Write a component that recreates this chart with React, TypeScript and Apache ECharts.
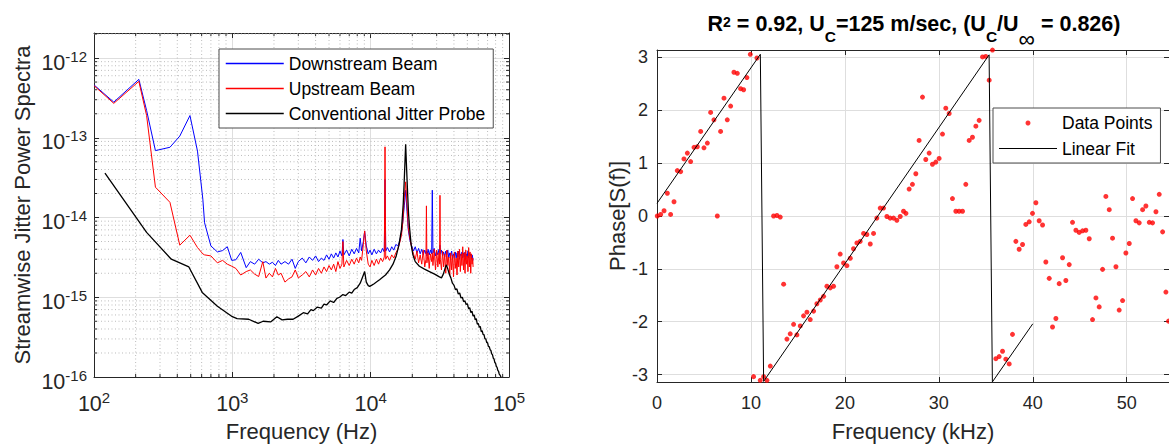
import React, { useEffect, useRef } from 'react';
import * as echarts from 'echarts';

const FONT = '"Liberation Sans", Arial, Helvetica, sans-serif';
const AX = '#262626';
const PSD_UNIT = 1e-15; // values below are in units of 1e-15

// ---- Left panel: streamwise jitter power spectra [frequency Hz, PSD x1e-15]
const downstreamBeam: [number, number][] = [
  [100, 460], [139, 280], [211, 540], [240, 220], [278, 69], [354, 76], [417, 105], [494, 190], [560, 68], [612, 17],
  [630, 8.6], [700, 4.4], [780, 3.7], [850, 3.85], [920, 4.3], [990, 2.9], [1060, 2.95], [1150, 3.65], [1260, 2.35], [1350, 2.8],
  [1450, 2.6], [1550, 3.0], [1660, 2.7], [1750, 2.8], [1850, 2.6], [1950, 2.75], [2050, 2.5], [2150, 2.9], [2250, 2.6], [2400, 2.8],
  [2550, 2.6], [2700, 3.0], [2850, 2.3], [3000, 2.8], [3200, 3.1], [3400, 2.7], [3600, 3.2], [3800, 2.9], [4000, 3.3], [4200, 2.8],
  [4400, 3.1], [4600, 2.9], [4800, 3.4], [5000, 3.0], [5200, 3.5], [5400, 3.1], [5600, 3.6], [5800, 3.2], [6000, 3.8], [6200, 3.3],
  [6300, 5.3], [6400, 3.4], [6700, 3.9], [7000, 3.3], [7300, 4.0], [7600, 3.5], [7900, 4.1], [8200, 3.6], [8400, 5.5], [8600, 3.8],
  [8850, 5.0], [9050, 6.7], [9300, 4.4], [9600, 3.5], [9900, 3.9], [10200, 3.4], [10600, 4.0], [11000, 3.5], [11400, 3.9], [11800, 3.6],
  [12200, 4.1], [12550, 3.7], [12700, 30], [12850, 3.8], [13200, 4.2], [13700, 3.7], [14200, 4.3], [14700, 3.9], [15200, 4.6], [15700, 4.4],
  [16200, 5.0], [16700, 6.5], [17100, 9], [17500, 14], [17900, 22], [18300, 12], [18700, 7], [19200, 5.2], [19800, 4.4], [20400, 3.8],
  [21000, 4.3], [21600, 3.6], [22200, 4.1], [22800, 3.5], [23400, 4.0], [24000, 3.4], [24600, 3.9], [25100, 3.5], [25300, 3.8], [25500, 3.3],
  [26000, 4.0], [26500, 3.4], [27000, 3.9], [27600, 3.5], [27900, 22], [28200, 3.6], [28800, 4.1], [29400, 3.3], [30000, 3.8], [30600, 3.4],
  [31200, 4.0], [31500, 3.6], [31700, 4.5], [31900, 3.5], [32500, 3.9], [33100, 3.3], [33700, 3.7], [34300, 3.2], [34900, 3.8], [35500, 3.4],
  [36100, 3.9], [36700, 3.1], [37300, 3.6], [37900, 3.3], [38500, 3.8], [39100, 3.0], [39700, 3.5], [40300, 3.2], [40900, 3.7], [41500, 3.1],
  [42100, 3.6], [42700, 3.2], [43300, 3.8], [43900, 3.0], [44500, 3.5], [45100, 3.3], [45700, 3.7], [46300, 3.1], [46900, 3.6], [47500, 3.2],
  [48100, 3.7], [48700, 3.0], [49300, 3.5], [49900, 3.2], [50500, 3.8], [51100, 3.1], [51700, 3.6], [52300, 3.3], [52900, 3.5], [53500, 3.0],
  [54100, 3.4], [54700, 3.1], [55000, 2.9],
];

const upstreamBeam: [number, number][] = [
  [100, 450], [139, 270], [211, 510], [240, 190], [278, 24], [354, 15.5], [417, 4.5], [494, 6.0], [560, 4.2], [612, 3.5],
  [630, 3.4], [700, 3.3], [780, 2.7], [850, 2.9], [920, 2.6], [990, 2.45], [1060, 2.3], [1150, 1.9], [1260, 2.1], [1350, 2.2],
  [1450, 1.95], [1550, 1.82], [1660, 2.8], [1750, 1.74], [1850, 2.0], [1950, 1.8], [2050, 2.3], [2150, 1.9], [2250, 2.0], [2400, 1.55],
  [2550, 1.7], [2700, 1.8], [2850, 2.2], [3000, 1.75], [3200, 1.9], [3400, 2.1], [3600, 1.8], [3800, 2.2], [4000, 1.9], [4200, 2.3],
  [4400, 2.0], [4600, 2.4], [4800, 2.1], [5000, 2.5], [5200, 2.2], [5400, 2.6], [5600, 2.1], [5800, 2.8], [6000, 2.3], [6200, 2.6],
  [6300, 5.0], [6400, 2.4], [6700, 2.9], [7000, 2.5], [7300, 3.0], [7600, 2.6], [7900, 3.1], [8200, 2.7], [8400, 3.2], [8600, 2.9],
  [8850, 4.6], [9050, 6.8], [9300, 3.8], [9600, 2.6], [9900, 2.4], [10200, 2.9], [10600, 2.5], [11000, 3.0], [11400, 2.6], [11800, 3.1],
  [12200, 2.8], [12550, 3.2], [12700, 77], [12850, 3.0], [13200, 3.3], [13700, 2.9], [14200, 3.4], [14700, 3.1], [15200, 3.6], [15700, 4.0],
  [16200, 4.8], [16700, 6.0], [17100, 9], [17500, 18], [17900, 28], [18300, 15], [18700, 7.5], [19200, 5.5], [19800, 4.2], [20400, 3.5],
  [21000, 3.0], [21600, 3.8], [22200, 2.7], [22800, 3.4], [23400, 2.6], [24000, 3.9], [24600, 2.4], [25100, 3.0], [25300, 14], [25500, 2.7],
  [26000, 3.6], [26500, 2.3], [27000, 3.5], [27600, 2.8], [27900, 3.6], [28200, 2.5], [28800, 4.0], [29400, 2.2], [30000, 3.9], [30600, 2.4],
  [31200, 3.6], [31500, 2.6], [31700, 19], [31900, 3.0], [32500, 2.2], [33100, 3.8], [33700, 2.4], [34300, 3.5], [34900, 2.0], [35500, 3.9],
  [36100, 2.5], [36700, 3.2], [37300, 1.9], [37900, 3.6], [38500, 2.2], [39100, 3.4], [39700, 1.8], [40300, 3.7], [40900, 2.3], [41500, 3.1],
  [42100, 1.9], [42700, 3.8], [43300, 2.4], [43900, 4.0], [44500, 2.1], [45100, 3.5], [45700, 2.5], [46300, 4.3], [46900, 2.2], [47500, 3.6],
  [48100, 2.0], [48700, 3.9], [49300, 2.6], [49900, 3.3], [50500, 2.1], [51100, 4.2], [51700, 2.4], [52300, 3.7], [52900, 2.0], [53500, 3.5],
  [54100, 2.6], [54700, 3.1], [55000, 2.4],
];

const jitterProbe: [number, number][] = [
  [120, 36], [240, 6.5], [362, 3.0], [485, 2.4], [606, 1.15], [780, 0.77], [1000, 0.57], [1083, 0.54], [1313, 0.53], [1537, 0.47],
  [1670, 0.50], [1890, 0.49], [2100, 0.57], [2290, 0.52], [2500, 0.53], [2750, 0.53], [3000, 0.58], [3260, 0.64], [3500, 0.62], [3700, 0.70],
  [3850, 0.68], [4100, 0.75], [4400, 0.73], [4600, 0.82], [4800, 0.80], [5100, 0.90], [5400, 0.86], [5700, 0.97], [5960, 1.0], [6300, 1.08],
  [6600, 1.05], [7000, 1.16], [7300, 1.13], [7600, 1.25], [8000, 1.32], [8400, 1.5], [8800, 1.85], [9050, 2.1], [9300, 1.55], [9600, 1.4],
  [9840, 1.37], [10200, 1.42], [10600, 1.48], [11000, 1.55], [11600, 1.66], [12200, 1.78], [12800, 1.9], [13700, 2.2], [14500, 2.6], [15300, 3.3],
  [16000, 4.5], [16700, 7.1], [17200, 15], [17500, 30], [17900, 83], [18200, 40], [18500, 20], [18800, 11], [19100, 7.5], [19600, 4.6],
  [20200, 3.4], [21000, 2.8], [22500, 2.45], [24500, 2.25], [26600, 2.1], [29000, 1.95], [31400, 1.8], [32500, 1.75], [33500, 1.95], [34500, 2.3],
  [35200, 2.55], [36000, 2.3], [37000, 1.95], [38000, 1.75], [39000, 1.5], [40000, 1.42], [41000, 1.25], [42000, 1.27], [43000, 1.1], [44000, 1.13],
  [45000, 0.98], [46000, 1.0], [47000, 0.88], [48000, 0.9], [49000, 0.81], [50000, 0.83], [51000, 0.72], [52000, 0.74], [53000, 0.64], [54000, 0.67],
  [55000, 0.58], [56000, 0.6], [57000, 0.52], [58000, 0.54], [59000, 0.46], [60000, 0.47], [61000, 0.42], [62000, 0.43], [63000, 0.37], [64000, 0.38],
  [65000, 0.34], [66000, 0.34], [67000, 0.3], [68000, 0.3], [69000, 0.27], [70000, 0.27], [71000, 0.24], [72000, 0.24], [73000, 0.22], [74000, 0.215],
  [75000, 0.195], [76000, 0.19], [77000, 0.172], [78000, 0.168], [79000, 0.152], [80000, 0.148], [81000, 0.136], [82000, 0.132], [83000, 0.121], [84000, 0.118],
  [85000, 0.109], [86000, 0.106], [87600, 0.10],
];

// ---- Right panel: phase of cross-spectrum
const phaseFreqKHz = [
  0.03, 0.39, 0.75, 1.10, 1.45, 1.81, 2.16, 2.52, 2.87, 3.23, 3.58, 3.94, 4.29, 4.65, 5.00, 5.36, 5.71, 6.06, 6.42, 6.77,
  7.13, 7.48, 7.84, 8.19, 8.55, 8.90, 9.22, 9.57, 9.93, 10.28, 10.64, 10.99, 11.35, 11.70, 12.06, 12.41, 12.77, 13.12, 13.48, 13.83,
  14.18, 14.54, 14.89, 15.25, 15.60, 15.96, 16.31, 16.67, 17.02, 17.38, 17.73, 18.09, 18.44, 18.79, 19.15, 19.50, 19.86, 20.21, 20.57, 20.92,
  21.28, 21.63, 21.99, 22.34, 22.70, 23.05, 23.40, 23.76, 24.11, 24.47, 24.82, 25.18, 25.53, 25.89, 26.24, 26.50, 26.84, 27.19, 27.55, 27.90,
  28.26, 28.61, 28.97, 29.32, 29.68, 30.03, 30.39, 30.74, 31.10, 31.45, 31.81, 32.16, 32.52, 32.87, 33.23, 33.58, 33.94, 34.29, 34.65, 35.00,
  35.36, 35.71, 36.07, 36.42, 36.78, 37.13, 37.49, 37.84, 38.20, 38.55, 38.91, 39.26, 39.62, 39.97, 40.33, 40.68, 41.04, 41.39, 41.75, 42.10,
  42.46, 42.81, 43.17, 43.52, 43.88, 44.23, 44.59, 44.94, 45.30, 45.65, 46.01, 46.36, 46.72, 47.07, 47.43, 47.78, 48.14, 48.49, 48.85, 49.20,
  49.56, 49.91, 50.27, 50.62, 50.98, 51.33, 51.69, 52.04, 52.40, 52.75, 53.11, 53.46, 53.82, 54.17, 54.45,
];
const phaseRad = [
  0.00, 0.03, 0.10, 0.43, 0.03, 0.27, 0.86, 0.84, 1.08, 1.19, 1.03, 1.30, 1.31, 1.60, 1.29, 1.38, 1.96, 1.82, 0.00, 1.60,
  2.23, 1.82, 2.08, 2.72, 2.70, 2.41, 2.39, 2.62, 3.06, -3.04, 2.99, -3.11, -3.04, -3.11, -2.84, 0.00, 0.01, -0.02, -1.29, -2.33,
  -2.23, -2.05, -2.25, -2.08, -1.89, -1.82, -1.96, -1.80, -1.66, -1.59, -1.52, -1.33, -1.36, -1.33, -0.96, -0.72, -0.89, -0.94, -0.80, -0.62,
  -0.51, -0.48, -0.33, -0.35, -0.53, -0.33, -0.04, 0.15, 0.15, -0.01, -0.04, -0.04, -0.08, -0.01, 0.09, 0.05, 0.51, 0.60, 0.80, 1.43,
  2.25, 1.07, 1.19, 0.98, 1.02, 1.09, 1.55, 2.04, 1.94, 0.33, 0.09, 0.09, 0.09, 0.60, 1.43, 1.49, 1.70, 1.81, 3.01, 3.02,
  2.57, 3.14, -2.70, -2.66, -2.56, -2.71, -2.80, -2.24, -0.48, -0.63, -0.54, -0.16, -0.11, 0.05, 0.25, -0.09, -0.17, -0.87, -1.18, -2.10,
  -1.94, -1.28, -0.79, -1.22, -0.92, -0.12, -0.27, -0.31, -0.28, -0.27, -0.43, -1.96, -1.55, -1.72, -1.01, 0.37, 0.12, -0.42, -0.96, -1.78,
  -1.60, -0.70, -0.52, 0.33, -0.09, -0.13, 0.12, 0.19, -0.12, -0.13, 0.08, 0.41, -0.30, -1.44, -1.99,
];
const linearFit: [number, number][] = [
  [0, 0.24], [11.0, 3.06], [11.35, -3.13], [35.35, 3.05], [35.7, -3.14], [40.0, -2.04],
];

const LEFT_Y_MIN = 1e-16;
const LEFT_Y_MAX = 2.06e-12;
const LINE_ICON = 'path://M0,0H58V1.2H0Z';

const toPsd = (arr: [number, number][]) => arr.map(([f, v]) => [f, v * PSD_UNIT]);

const powLabel = (v: number) => {
  const l = Math.log10(v);
  const e = Math.round(l);
  if (Math.abs(l - e) > 1e-6) return '';
  return `{b|10}{s|${e}}`;
};

const powRich = {
  b: { fontSize: 21.5, lineHeight: 28, color: AX, fontFamily: FONT },
  s: { fontSize: 15, lineHeight: 18, verticalAlign: 'top', color: AX, fontFamily: FONT },
};

function App() {
  const ref = useRef<HTMLDivElement>(null);
  useEffect(() => {
    if (!ref.current) return;
    const chart = echarts.init(ref.current, undefined, { renderer: 'svg' });

    const minorX: number[] = [];
    [100, 1000, 10000].forEach((d) => { for (let k = 2; k <= 9; k++) minorX.push(k * d); });
    const minorY: number[] = [];
    [1e-16, 1e-15, 1e-14, 1e-13, 1e-12].forEach((d) => {
      for (let k = 2; k <= 9; k++) if (k * d < LEFT_Y_MAX) minorY.push(k * d);
    });
    const minorData = [
      ...minorX.map((v) => [v, 1e-15, 0]),
      ...minorY.map((v) => [1000, v, 1]),
    ];

    const axisLine = { show: true, onZero: false, lineStyle: { color: AX, width: 1 } };
    const tick = { show: true, inside: true, length: 5, lineStyle: { color: AX, width: 1 } };
    const grid = { show: true, lineStyle: { color: '#dedede', width: 1 } };
    const nameStyle = { fontSize: 22, color: AX, fontFamily: FONT };
    const legendText = { fontSize: 17.5, color: '#000', fontFamily: FONT, lineHeight: 22 };

    const option: any = {
      animation: false,
      backgroundColor: '#ffffff',
      textStyle: { fontFamily: FONT },
      grid: [
        { left: 94, top: 33, width: 415, height: 344, containLabel: false },
        { left: 657, top: 50, width: 513, height: 333, containLabel: false },
      ],
      xAxis: [
        {
          type: 'log', logBase: 10, min: 100, max: 100000, gridIndex: 0, position: 'bottom',
          axisLine, axisTick: tick, splitLine: grid,
          axisLabel: { formatter: powLabel, rich: powRich, margin: 13 },
          name: 'Frequency (Hz)', nameLocation: 'middle', nameGap: 43, nameTextStyle: nameStyle,
        },
        {
          type: 'log', logBase: 10, min: 100, max: 100000, gridIndex: 0, position: 'top',
          axisLine, axisTick: tick, splitLine: { show: false }, axisLabel: { show: false },
        },
        {
          type: 'value', min: 0, max: 54.5, interval: 10, gridIndex: 1, position: 'bottom',
          axisLine, axisTick: tick, splitLine: grid,
          axisLabel: { fontSize: 18, color: AX, margin: 12, showMaxLabel: false, fontFamily: FONT },
          name: 'Frequency (kHz)', nameLocation: 'middle', nameGap: 38, nameTextStyle: nameStyle,
        },
        {
          type: 'value', min: 0, max: 54.5, interval: 10, gridIndex: 1, position: 'top',
          axisLine, axisTick: tick, splitLine: { show: false }, axisLabel: { show: false },
        },
      ],
      yAxis: [
        {
          type: 'log', logBase: 10, min: LEFT_Y_MIN, max: LEFT_Y_MAX, gridIndex: 0, position: 'left',
          axisLine, axisTick: tick, splitLine: grid,
          axisLabel: { formatter: powLabel, rich: powRich, margin: 7, showMaxLabel: false, padding: [9, 0, 0, 0] },
          name: 'Streamwise Jitter Power Spectra', nameLocation: 'middle', nameGap: 61, nameTextStyle: nameStyle,
        },
        {
          type: 'log', logBase: 10, min: LEFT_Y_MIN, max: LEFT_Y_MAX, gridIndex: 0, position: 'right',
          axisLine, axisTick: tick, splitLine: { show: false }, axisLabel: { show: false },
        },
        {
          type: 'value', min: -Math.PI, max: Math.PI, gridIndex: 1, position: 'left',
          axisLine, axisTick: tick, splitLine: grid,
          axisLabel: { fontSize: 18, color: AX, margin: 9, showMinLabel: false, showMaxLabel: false, fontFamily: FONT },
          name: 'Phase[S(f)]', nameLocation: 'middle', nameGap: 29, nameTextStyle: nameStyle,
        },
        {
          type: 'value', min: -Math.PI, max: Math.PI, gridIndex: 1, position: 'right',
          axisLine, axisTick: tick, splitLine: { show: false }, axisLabel: { show: false },
        },
      ],
      legend: [
        {
          data: ['Downstream Beam', 'Upstream Beam', 'Conventional Jitter Probe'],
          orient: 'vertical', left: 219, top: 49, itemWidth: 58, itemHeight: 10, itemGap: 3,
          padding: [3.5, 8, 3.5, 6], backgroundColor: '#ffffff', borderColor: '#4d4d4d', borderWidth: 1,
          selectedMode: false,
          itemStyle: { opacity: 0 },
          lineStyle: { width: 1.5 },
          textStyle: legendText,
        },
        {
          data: [{ name: 'Data Points', icon: 'circle' }, { name: 'Linear Fit', icon: LINE_ICON }],
          orient: 'vertical', left: 993, top: 108, itemWidth: 58, itemHeight: 5, itemGap: 3.5,
          padding: [4, 8, 3.5, 6], backgroundColor: '#ffffff', borderColor: '#4d4d4d', borderWidth: 1,
          selectedMode: false, symbolKeepAspect: true,
          textStyle: legendText,
        },
      ],
      graphic: [
        {
          type: 'text', x: 914, y: 13, z: 10,
          style: {
            text: '{b|R}{sup|2}{b| = 0.92, U}{sub|C}{b|=125 m/sec, (U}{sub|C}{b|/U}{inf|∞}{b| = 0.826)}',
            align: 'center', verticalAlign: 'top',
            rich: {
              b: { fontSize: 21.5, fontWeight: 'bold', lineHeight: 26, verticalAlign: 'top', fill: '#000', fontFamily: FONT },
              sup: { fontSize: 14, fontWeight: 'bold', lineHeight: 14, padding: [2, 0, 0, 0], verticalAlign: 'top', fill: '#000', fontFamily: FONT },
              sub: { fontSize: 15.5, fontWeight: 'bold', lineHeight: 16, padding: [15, 0, 0, 0], verticalAlign: 'top', fill: '#000', fontFamily: FONT },
              inf: { fontSize: 23, lineHeight: 18, padding: [14, 0, 0, 0], verticalAlign: 'top', fill: '#000', fontFamily: FONT },
            },
          },
        },
      ],
      series: [
        {
          type: 'custom', name: 'minorGrid', xAxisIndex: 0, yAxisIndex: 0, z: 1, silent: true,
          dimensions: ['x', 'y', 'k'], encode: { x: 0, y: 1 },
          data: minorData,
          renderItem: (params: any, api: any) => {
            const cs = params.coordSys;
            const kind = api.value(2);
            const dotted = { stroke: '#bcbcbc', lineWidth: 1, lineDash: [1, 2.5], fill: null };
            const tk = { stroke: AX, lineWidth: 1, fill: null };
            if (kind === 0) {
              const x = api.coord([api.value(0), 1e-15])[0];
              const yb = cs.y + cs.height;
              const yt = cs.y;
              return {
                type: 'group', children: [
                  { type: 'line', shape: { x1: x, y1: yt, x2: x, y2: yb }, style: { ...dotted } },
                  { type: 'line', shape: { x1: x, y1: yb, x2: x, y2: yb - 3 }, style: { ...tk } },
                  { type: 'line', shape: { x1: x, y1: yt, x2: x, y2: yt + 3 }, style: { ...tk } },
                ],
              };
            }
            const y = api.coord([1000, api.value(1)])[1];
            const xl = cs.x;
            const xr = cs.x + cs.width;
            return {
              type: 'group', children: [
                { type: 'line', shape: { x1: xl, y1: y, x2: xr, y2: y }, style: { ...dotted } },
                { type: 'line', shape: { x1: xl, y1: y, x2: xl + 3, y2: y }, style: { ...tk } },
                { type: 'line', shape: { x1: xr, y1: y, x2: xr - 3, y2: y }, style: { ...tk } },
              ],
            };
          },
        },
        {
          type: 'line', name: 'Downstream Beam', xAxisIndex: 0, yAxisIndex: 0, z: 3,
          data: toPsd(downstreamBeam), symbol: 'none', color: '#0000ff',
          lineStyle: { color: '#0000ff', width: 1 },
        },
        {
          type: 'line', name: 'Upstream Beam', xAxisIndex: 0, yAxisIndex: 0, z: 3,
          data: toPsd(upstreamBeam), symbol: 'none', color: '#ff0000',
          lineStyle: { color: '#ff0000', width: 1 },
        },
        {
          type: 'line', name: 'Conventional Jitter Probe', xAxisIndex: 0, yAxisIndex: 0, z: 3,
          data: toPsd(jitterProbe), symbol: 'none', color: '#000000',
          lineStyle: { color: '#000000', width: 1.3 },
        },
        {
          type: 'scatter', name: 'Data Points', xAxisIndex: 2, yAxisIndex: 2, z: 3,
          data: phaseFreqKHz.map((f, i) => [f, phaseRad[i]]),
          symbol: 'circle', symbolSize: 5, itemStyle: { color: '#ff0000' }, color: '#ff0000',
        },
        {
          type: 'line', name: 'Linear Fit', xAxisIndex: 2, yAxisIndex: 2, z: 4,
          data: linearFit, symbol: 'none', color: '#000000',
          lineStyle: { color: '#000000', width: 1 },
        },
      ],
    };

    chart.setOption(option);
    return () => chart.dispose();
  }, []);

  return (
    <div
      ref={ref}
      style={{ position: 'fixed', left: 0, top: 0, width: 1169, height: 447, background: '#fff' }}
    />
  );
}

export default App;
